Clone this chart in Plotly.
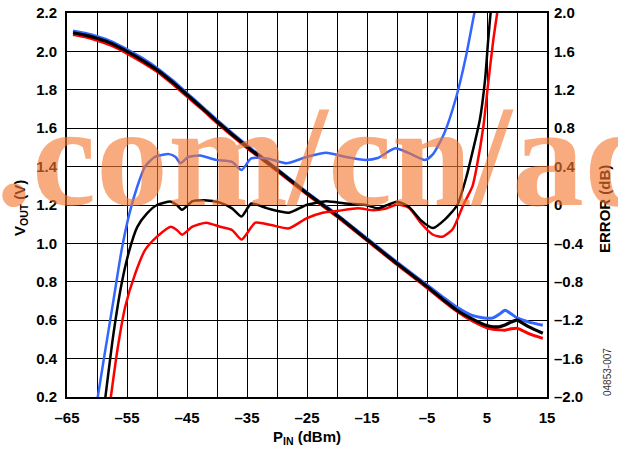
import plotly.graph_objects as go

# ---------------- axis ticks ----------------
x_ticks = [-65, -55, -45, -35, -25, -15, -5, 5, 15]
x_tick_labels = ["–65", "–55", "–45", "–35", "–25", "–15", "–5", "5", "15"]
vout_ticks = [0.2, 0.4, 0.6, 0.8, 1.0, 1.2, 1.4, 1.6, 1.8, 2.0, 2.2]
vout_tick_labels = ["0.2", "0.4", "0.6", "0.8", "1.0", "1.2", "1.4", "1.6", "1.8", "2.0", "2.2"]
err_ticks = [-2.0, -1.6, -1.2, -0.8, -0.4, 0.0, 0.4, 0.8, 1.2, 1.6, 2.0]
err_tick_labels = ["–2.0", "–1.6", "–1.2", "–0.8", "–0.4", "0", "0.4", "0.8", "1.2", "1.6", "2.0"]

# ---------------- VOUT curves (left axis) ----------------
vout_pin = [-64, -62, -60, -57.5, -55, -52.5, -50, -47.5, -45, -42.5, -40, -35, -30, -25, -20,
            -15, -10, -5, -2.5, 0, 2.5, 5, 6, 7, 8, 9, 10, 11, 12, 14.3]
vout_black = [2.097, 2.085, 2.068, 2.04, 2.0, 1.955, 1.904, 1.842, 1.774, 1.706, 1.635, 1.504, 1.383,
              1.261, 1.145, 1.02, 0.895, 0.775, 0.712, 0.652, 0.607, 0.572, 0.566, 0.566, 0.575,
              0.59, 0.6, 0.583, 0.565, 0.532]
vout_blue = [2.107, 2.095, 2.078, 2.05, 2.01, 1.965, 1.913, 1.851, 1.782, 1.713, 1.642, 1.51, 1.388,
             1.266, 1.15, 1.026, 0.902, 0.783, 0.724, 0.667, 0.625, 0.61, 0.612, 0.63, 0.652,
             0.634, 0.612, 0.6, 0.59, 0.574]
vout_red = [2.088, 2.076, 2.058, 2.03, 1.99, 1.945, 1.895, 1.833, 1.766, 1.699, 1.628, 1.498, 1.378,
            1.256, 1.14, 1.015, 0.89, 0.769, 0.706, 0.646, 0.597, 0.56, 0.553, 0.55, 0.548,
            0.555, 0.558, 0.545, 0.53, 0.505]

# ---------------- ERROR curves (right axis) ----------------
err_blue_pin = [-60.0, -58.9, -57.25, -55.9, -54.6, -53.3, -52.0, -50.4, -48.0, -46.9, -46.1, -44.8,
                -42.8, -40.2, -37.5, -35.9, -34.3, -31.6, -28.4, -25.1, -21.8, -18.5, -15.2, -13.2,
                -10.3, -8.0, -5.3, -4.0, -2.1, -0.1, 1.5, 2.9, 3.1]
err_blue = [-2.05, -1.62, -0.99, -0.47, -0.09, 0.19, 0.40, 0.50, 0.53, 0.50, 0.435, 0.50,
            0.515, 0.47, 0.45, 0.365, 0.485, 0.485, 0.435, 0.50, 0.545, 0.50, 0.47, 0.49,
            0.59, 0.54, 0.47, 0.53, 0.75, 1.13, 1.55, 2.0, 2.05]

err_black_pin = [-58.7, -57.25, -55.9, -54.6, -53.3, -51.7, -50.0, -47.7, -46.7, -45.8, -44.1, -42.1,
                 -39.5, -37.5, -35.9, -34.3, -31.6, -28.0, -25.1, -21.8, -18.5, -15.2, -13.2, -10.0,
                 -8.0, -6.0, -4.0, -2.0, 0.05, 1.6, 2.0, 3.8, 4.67, 5.2, 5.6, 5.7]
err_black = [-2.05, -1.34, -0.82, -0.47, -0.23, -0.09, 0.0, 0.035, 0.0, -0.05, 0.04, 0.05,
             0.025, -0.035, -0.12, 0.015, -0.035, -0.08, 0.0, 0.04, 0.015, 0.0, -0.035, 0.035,
             -0.02, -0.16, -0.24, -0.15, 0.0, 0.3, 0.4, 0.885, 1.30, 1.72, 2.0, 2.05]

err_red_pin = [-57.8, -56.6, -55.3, -53.6, -52.0, -50.0, -47.7, -46.7, -45.8, -44.1, -41.8, -39.5,
               -37.5, -35.9, -33.6, -31.0, -28.0, -25.1, -22.4, -19.8, -16.5, -13.9, -12.0, -10.0,
               -8.0, -6.0, -4.0, -2.4, -0.7, 1.05, 2.6, 3.3, 4.4, 5.2, 6.05, 6.7, 6.8]
err_red = [-2.05, -1.51, -1.06, -0.71, -0.47, -0.33, -0.226, -0.26, -0.31, -0.226, -0.184, -0.226,
           -0.26, -0.36, -0.184, -0.209, -0.243, -0.139, -0.08, -0.06, -0.035, -0.055, -0.04, 0.005,
           -0.03, -0.19, -0.31, -0.33, -0.25, 0.0, 0.2, 0.4, 0.82, 1.27, 1.72, 2.0, 2.05]

BLUE = "#3366FF"
RED = "#FF0000"
BLACK = "#000000"

fig = go.Figure()

def add(xs, ys, color, width, axis):
    fig.add_trace(go.Scatter(x=xs, y=ys, mode="lines", yaxis=axis,
                             line=dict(color=color, width=width, shape="spline", smoothing=0.6),
                             showlegend=False, hoverinfo="skip"))

add(err_blue_pin, err_blue, BLUE, 2.5, "y2")
add(err_red_pin, err_red, RED, 2.5, "y2")
add(err_black_pin, err_black, BLACK, 2.5, "y2")
add(vout_pin, vout_blue, BLUE, 3, "y")
add(vout_pin, vout_red, RED, 3, "y")
add(vout_pin, vout_black, BLACK, 3.2, "y")

tickfont = dict(family="Liberation Sans, Arial, sans-serif", size=15, color="black", weight="bold")

fig.update_layout(
    width=618, height=451,
    margin=dict(l=67, r=71, t=13, b=54, autoexpand=False),
    paper_bgcolor="white", plot_bgcolor="white",
    xaxis=dict(range=[-65, 15], tickvals=x_ticks, ticktext=x_tick_labels,
               showgrid=True, gridcolor="black", gridwidth=1,
               minor=dict(tick0=-65, dtick=5, showgrid=True, gridcolor="black", gridwidth=1),
               showline=True, linecolor="black", linewidth=2, mirror=True, automargin=False,
               ticks="", tickfont=tickfont, ticklabelstandoff=6, zeroline=False),
    yaxis=dict(range=[0.2, 2.2], tickvals=vout_ticks, ticktext=vout_tick_labels,
               showgrid=True, gridcolor="black", gridwidth=1, automargin=False,
               showline=True, linecolor="black", linewidth=2, mirror=True,
               ticks="", tickfont=tickfont, ticklabelstandoff=5, zeroline=False),
    yaxis2=dict(range=[-2.0, 2.0], tickvals=err_ticks, ticktext=err_tick_labels,
                overlaying="y", side="right", showgrid=False, zeroline=False, automargin=False,
                ticks="", tickfont=tickfont, ticklabelstandoff=6),
)

def px_x(px):
    return (px - 67) / 480.0

def px_y(py):
    return (397 - py) / 384.0

title_font = dict(family="Liberation Sans, Arial, sans-serif", size=15, color="black", weight="bold")

fig.add_annotation(text="V<sub>OUT</sub> (V)", xref="paper", yref="paper",
                   x=px_x(20), y=px_y(208), textangle=-90, showarrow=False,
                   xanchor="center", yanchor="middle", font=title_font)
fig.add_annotation(text="ERROR (dB)", xref="paper", yref="paper",
                   x=px_x(604), y=px_y(209), textangle=-90, showarrow=False,
                   xanchor="center", yanchor="middle", font=title_font)
fig.add_annotation(text="P<sub>IN</sub> (dBm)", xref="paper", yref="paper",
                   x=px_x(307), y=px_y(437), showarrow=False,
                   xanchor="center", yanchor="middle", font=title_font)
fig.add_annotation(text="04853-007", xref="paper", yref="paper",
                   x=px_x(607), y=px_y(372), textangle=-90, showarrow=False,
                   xanchor="center", yanchor="middle",
                   font=dict(family="Liberation Sans, Arial, sans-serif", size=10, color="#333333"))

# watermark
fig.add_annotation(text=".com/cn/ad", xref="paper", yref="paper",
                   x=px_x(-6), y=px_y(238), showarrow=False,
                   xanchor="left", yanchor="bottom",
                   font=dict(family="Liberation Serif, Times New Roman, serif", size=144,
                             color="rgba(245,120,50,0.62)", weight="bold"))

fig.write_html("out.html",
               config={"displayModeBar": False},
               post_script="document.body.style.margin='0px';document.body.style.padding='0px';"
                           "document.body.style.overflow='hidden';")
